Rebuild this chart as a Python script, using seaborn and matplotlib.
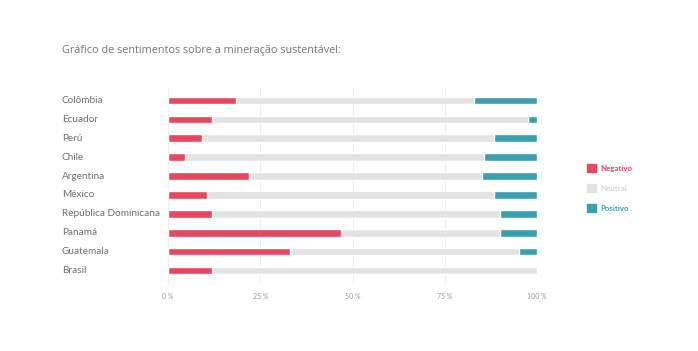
import pandas as pd
import numpy as np
import matplotlib.pyplot as plt
import matplotlib.transforms as mtransforms
import seaborn as sns
from matplotlib.patches import Patch
from matplotlib.ticker import FuncFormatter

paises = ['Colômbia', 'Ecuador', 'Perú', 'Chile', 'Argentina', 'México',
          'República Dominicana', 'Panamá', 'Guatemala', 'Brasil']
negativo = [18.3, 11.9, 9.3, 4.7, 22.0, 10.5, 11.9, 47.0, 33.0, 11.9]
positivo = [17.0, 2.5, 11.6, 14.4, 14.8, 11.6, 10.0, 10.0, 5.0, 0.0]
neutro = [100 - n - p for n, p in zip(negativo, positivo)]

cor_neg = '#E8475F'
cor_neu = '#E3E3E3'
cor_pos = '#3A9FAF'

df = pd.DataFrame({'pais': paises, 'neg': negativo, 'neu': neutro, 'pos': positivo})
df['neg_neu'] = df['neg'] + df['neu']
df['total'] = df['neg_neu'] + df['pos']

sns.set_style('white')
plt.rcParams['font.family'] = ['Lato', 'DejaVu Sans']

fig = plt.figure(figsize=(6.98, 3.51), dpi=100)
ax = fig.add_axes([0.2407, 0.1937, 0.5287, 0.5556])

# barras empilhadas: desenha do total para o menor
sns.barplot(data=df, y='pais', x='total', color=cor_pos, width=0.4, ax=ax, saturation=1)
sns.barplot(data=df, y='pais', x='neg_neu', color=cor_neu, width=0.4, ax=ax, saturation=1)
sns.barplot(data=df, y='pais', x='neg', color=cor_neg, width=0.4, ax=ax, saturation=1)

ax.set_xlim(0, 100)
ax.set_ylim(9.66, -0.66)
ax.set_xticks([0, 25, 50, 75, 100])
ax.xaxis.set_major_formatter(FuncFormatter(lambda v, p: f'{int(v)} %'))
ax.grid(axis='x', color='#EDEDED', linewidth=0.8)
ax.set_axisbelow(True)
for s in ax.spines.values():
    s.set_visible(False)
ax.set_xlabel('')
ax.set_ylabel('')
ax.tick_params(axis='x', length=0, pad=7, labelsize=5, labelcolor='#999999')
ax.tick_params(axis='y', length=0)
ax.set_yticklabels([])

# rótulos dos países alinhados à esquerda
trans = mtransforms.blended_transform_factory(fig.transFigure, ax.transData)
for i, p in enumerate(paises):
    ax.text(62 / 698, i, p, transform=trans,
            ha='left', va='center', fontsize=7.2, color='#707070')

fig.text(62 / 698, 1 - 50 / 351, 'Gráfico de sentimentos sobre a mineração sustentável:',
         fontsize=7.8, color='#777777', family=['Open Sans', 'DejaVu Sans'], va='center')

handles = [Patch(color=cor_neg), Patch(color=cor_neu), Patch(color=cor_pos)]
ax.legend(handles, ['Negativo', 'Neutral', 'Positivo'],
          loc='center left', bbox_to_anchor=(580 / 698, 1 - 188 / 351),
          bbox_transform=fig.transFigure, frameon=False,
          handlelength=1.1, handleheight=1.1, handletextpad=0.6, labelspacing=1.55,
          labelcolor=[cor_neg, '#D5D5D5', cor_pos],
          prop={'size': 5.7, 'weight': 'bold'})

fig.savefig('out.png', dpi=100)
